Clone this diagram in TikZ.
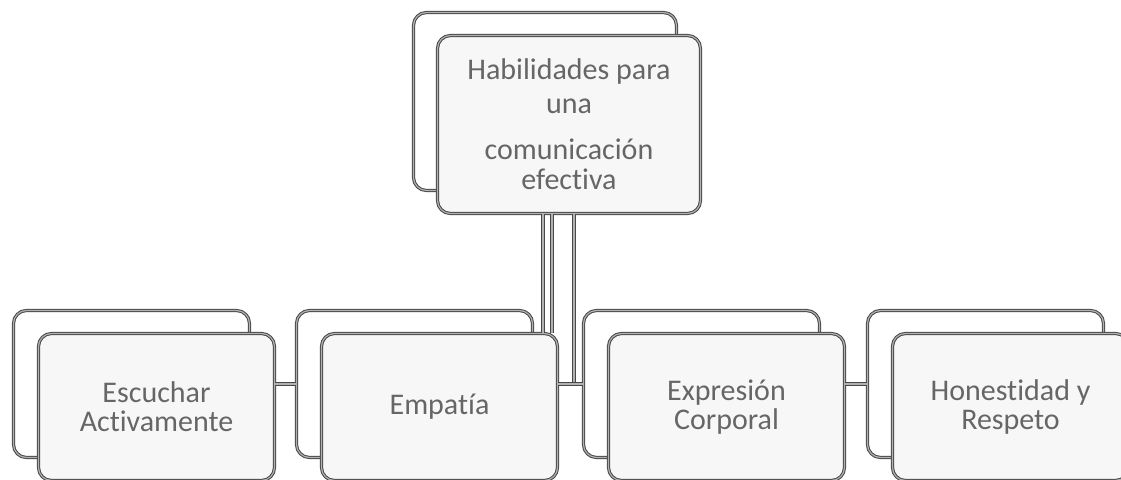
\documentclass[tikz,border=0pt]{standalone}
\usepackage{fontspec}
\setmainfont{Carlito}[Ligatures=NoCommon]

\tikzset{
  card/.style={draw=black!72, double=black!30, double distance=1.2pt, line width=1pt,
    rounded corners=13pt, inner sep=0pt, anchor=north west,
    minimum width=236pt, minimum height=147pt},
  cardfront/.style={card, fill=black!3, text=black!60, align=center,
    font=\fontsize{30}{29}\selectfont},
  link/.style={draw=black!72, double=black!30, double distance=1.2pt, line width=1pt}
}

\begin{document}
\begin{tikzpicture}[x=1pt, y=-1pt]
  \useasboundingbox (0,0) rectangle (1121,479);
  % top card
  \node[card, minimum width=263pt, minimum height=178pt] (habback) at (413,12) {};
  \node[cardfront, minimum width=263pt, minimum height=178pt,
    font=\fontsize{30}{34}\selectfont] (hab) at (437,35)
    {Habilidades para\\una\\[12pt]comunicación\\[-4pt]efectiva};
  % bottom row
  \foreach \n/\x/\t in {esc/13/{Escuchar\\Activamente}, emp/296/{Empatía},
                        exp/583/{Expresión\\Corporal}, hon/867/{Honestidad y\\Respeto}} {
    \node[card] (\n back) at (\x,310) {};
    \node[cardfront] (\n) at (\x+25,333) {\t};
  }
  % links
  \coordinate (v1) at (543,0);
  \coordinate (v2) at (552,0);
  \coordinate (v3) at (574,0);
  \draw[link] (hab.south -| v1) -- (emp.north -| v1);
  \draw[link] (hab.south -| v2) -- (emp.north -| v2);
  \draw[link] (hab.south -| v3) -- (v3 |- expback.west);
  \draw[link] (esc.east |- empback.west) -- (empback.west);
  \draw[link] (emp.east |- expback.west) -- (expback.west);
  \draw[link] (exp.east |- honback.west) -- (honback.west);
\end{tikzpicture}
\end{document}
